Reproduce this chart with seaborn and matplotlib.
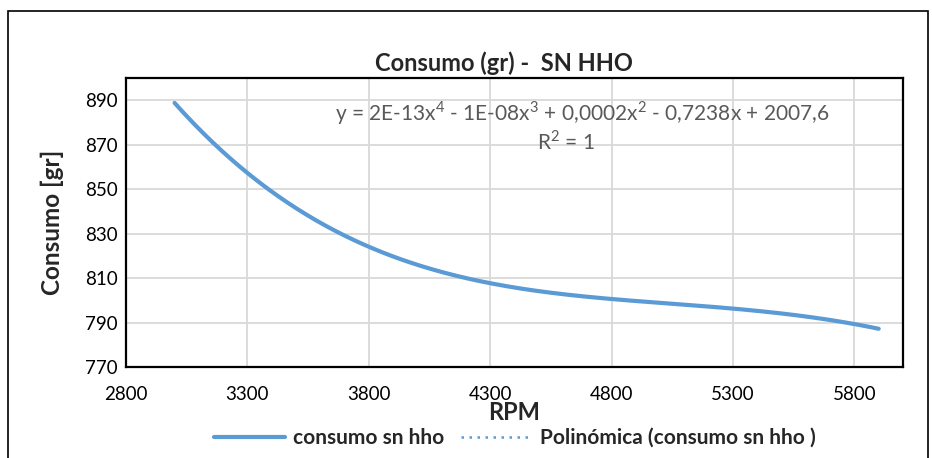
import numpy as np
import pandas as pd
import matplotlib
matplotlib.use("Agg")
import matplotlib.pyplot as plt
import seaborn as sns
from matplotlib.patches import Rectangle

# data (consumo sin hho)
rpm = [3000, 3725, 4450, 5175, 5900]
consumo = [888.8, 827.8, 804.9, 797.4, 787.2]
x_ticks = [2800, 3300, 3800, 4300, 4800, 5300, 5800]
y_ticks = [770, 790, 810, 830, 850, 870, 890]
ecuacion = "y = 2E-13x$^4$ - 1E-08x$^3$ + 0,0002x$^2$ - 0,7238x + 2007,6"

sns.set_theme(style="white")
plt.rcParams['font.family'] = ['Lato', 'DejaVu Sans']
plt.rcParams['mathtext.fontset'] = 'custom'
plt.rcParams['mathtext.rm'] = 'Lato'

blue = "#5b9bd5"

fig = plt.figure(figsize=(9.32, 4.58), dpi=100)
ax = fig.add_axes([126 / 932, 1 - 367 / 458, (903 - 126) / 932, (367 - 78) / 458])

# 4th order polynomial trendline (R^2 = 1 -> passes through every point)
coef = np.polyfit(rpm, consumo, 4)
xs = np.linspace(min(rpm), max(rpm), 300)
curve = pd.DataFrame({"rpm": xs, "consumo": np.polyval(coef, xs)})

sns.lineplot(data=curve, x="rpm", y="consumo", ax=ax, color=blue, lw=3,
             label="consumo sn hho", legend=False)
sns.lineplot(data=curve, x="rpm", y="consumo", ax=ax, color=blue, lw=1.8,
             ls=(0, (1, 2.2)), label="Polinómica (consumo sn hho )", legend=False)

ax.set_xlim(2800, 6000)
ax.set_ylim(770, 900)
ax.set_xticks(x_ticks)
ax.set_yticks(y_ticks)
ax.grid(True, color="#d9d9d9", lw=1.3)
ax.set_axisbelow(True)
for s in ax.spines.values():
    s.set_color("black")
    s.set_linewidth(1.6)
ax.tick_params(axis="both", labelsize=13.5, colors="black", length=0)
ax.tick_params(axis="x", pad=13.5)
ax.tick_params(axis="y", pad=6)

ax.set_xlabel("RPM", fontsize=17, fontweight="bold", labelpad=-1)
ax.set_ylabel("Consumo [gr]", fontsize=17.5, fontweight="bold", labelpad=15)
ax.set_title("Consumo (gr) -  SN HHO", fontsize=17, fontweight="bold", pad=5,
             x=0.487)

ax.text(0.587, 0.879, ecuacion, transform=ax.transAxes, ha="center",
        va="center", fontsize=15, color="#595959")
ax.text(0.566, 0.779, "R$^2$ = 1", transform=ax.transAxes, ha="center",
        va="center", fontsize=15, color="#595959")

handles, labels = ax.get_legend_handles_labels()
fig.legend(handles, labels, loc="center", ncol=2, frameon=False,
           bbox_to_anchor=(515 / 932, 1 - 438 / 458),
           prop={"weight": "bold", "size": 15}, handlelength=3.4,
           columnspacing=0.8, handletextpad=0.4)

fig.patches.append(Rectangle((8 / 932, -0.05), (928 - 8) / 932, 1.05 - 11 / 458,
                             transform=fig.transFigure, fill=False,
                             edgecolor="black", lw=1.2))

fig.savefig("out.png", dpi=100)
